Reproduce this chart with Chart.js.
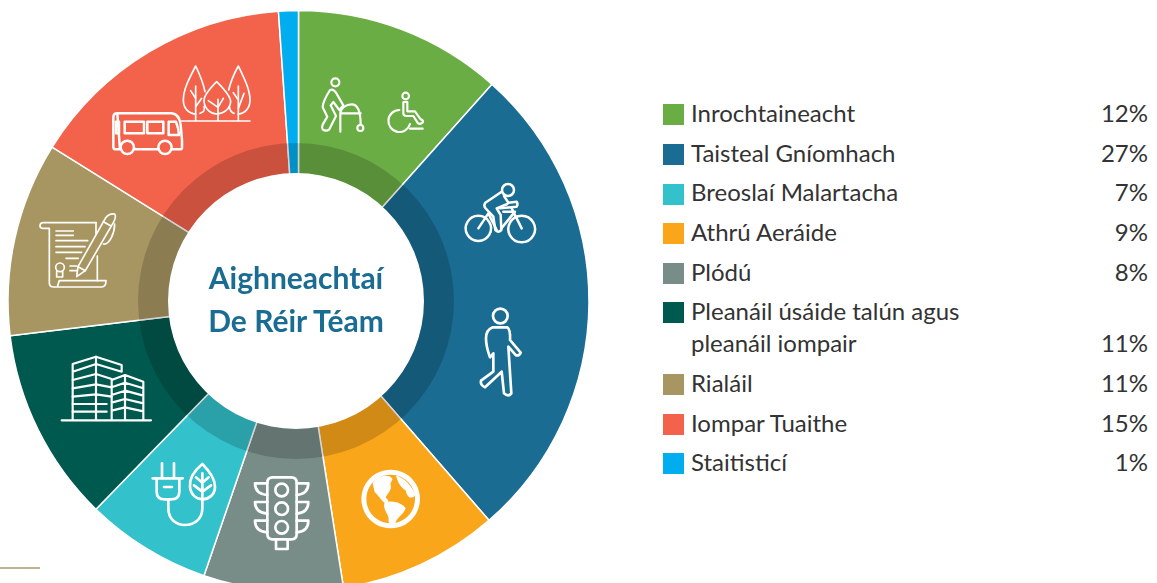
<!DOCTYPE html>
<html lang="ga">
<head>
<meta charset="utf-8">
<title>Aighneachtaí De Réir Téam</title>
<script src="https://cdn.jsdelivr.net/npm/chart.js@4/dist/chart.umd.min.js"></script>
<style>
html,body{margin:0;padding:0;background:#fff;width:1157px;height:583px;overflow:hidden;font-family:Lato,sans-serif}
canvas{position:absolute;display:block}
#base{left:0;top:0}
#ring{left:0;top:0}
#title{position:absolute;left:168px;width:256px;top:256px;text-align:center;color:#1a6c92;font:700 30px/43px Lato,sans-serif;}
#rule{position:absolute;left:0;top:567px;width:40px;height:2px;background:#bdb593}
.sw{position:absolute;left:663px;width:21px;height:21px}
.lb{position:absolute;left:691px;color:#333;font:400 24px/32px Lato,sans-serif;white-space:nowrap}
.pc{position:absolute;right:9px;color:#333;font:400 24px/32px Lato,sans-serif;white-space:nowrap}
</style>
</head>
<body>
<canvas id="base" width="597" height="602" style="width:597px;height:602px"></canvas>
<canvas id="ring" width="592" height="602" style="width:592px;height:602px"></canvas>
<div id="title">Aighneachtaí<br>De Réir Téam</div>
<div id="rule"></div>
<div id="legend"></div>
<script>
// Slices, clockwise from twelve o'clock
const sliceCategories = ["Inrochtaineacht","Taisteal Gníomhach","Athrú Aeráide","Plódú","Breoslaí Malartacha","Pleanáil úsáide talún agus pleanáil iompair","Rialáil","Iompar Tuaithe","Staitisticí"];
const sliceValues = [11.6,27,8.9,7.75,7,10.8,10.8,15,1.1];
const sliceColors = ["#6bad45","#1a6c92","#faa61a","#788c88","#33c2cb","#00594f","#a89662","#f3624b","#00aeef"];
// Legend rows, top to bottom
const legendLines = [["Inrochtaineacht"],["Taisteal Gníomhach"],["Breoslaí Malartacha"],["Athrú Aeráide"],["Plódú"],["Pleanáil úsáide talún agus","pleanáil iompair"],["Rialáil"],["Iompar Tuaithe"],["Staitisticí"]];
const legendPercents = ["12%","27%","7%","9%","8%","11%","11%","15%","1%"];
const legendColors = ["#6bad45","#1a6c92","#33c2cb","#faa61a","#788c88","#00594f","#a89662","#f3624b","#00aeef"];
const legendRowTops = [[97],[137],[176],[216],[256],[295,327],[367],[407],[446]];
const swatchTops = [104,144,184,223,263,302,374,414,453];

const legend = document.getElementById('legend');
legendLines.forEach((lines,i)=>{
  const s=document.createElement('div');s.className='sw';s.style.top=swatchTops[i]+'px';s.style.background=legendColors[i];legend.appendChild(s);
  lines.forEach((t,j)=>{
    const d=document.createElement('div');d.className='lb';d.textContent=t;d.style.top=legendRowTops[i][j]+'px';legend.appendChild(d);
  });
  const tops=legendRowTops[i];
  const p=document.createElement('div');p.className='pc';p.textContent=legendPercents[i];p.style.top=tops[tops.length-1]+'px';legend.appendChild(p);
});

// White line icons. Each is drawn in 3x units from a given page origin, with its own pen width.
const stroked = [
 [300,60,6.5,[
  "M118,67a12,12 0 1 0 -24,0a12,12 0 1 0 24,0Z",
  "M90,90C98,86 104,92 108,98L130,136L118,150L100,126L92,136L108,168L88,208Q78,216 68,208Q64,202 68,194L82,170L68,142Q68,125 90,90Z",
  "M121,215V160C121,145 138,133 155,133C172,133 182,148 182,195M121,160H182",
  "M190,204a9,9 0 1 0 -18,0a9,9 0 1 0 18,0Z",
  "M327,108a10,10 0 1 0 -20,0a10,10 0 1 0 20,0Z",
  "M310,126V160Q310,168 320,168H340L354,190Q362,194 369,186Q370,180 362,178L345,154H322V126Z",
  "M298,150A33,33 0 1 0 330,192",
  "M330,206H368"
 ]],
 [300,60,7.5,[
  "M535,467a38,38 0 1 0 .1,0Z","M665,467a40,40 0 1 0 .1,0Z",
  "M642,390a18,18 0 1 0 -36,0a18,18 0 1 0 36,0Z",
  "M605,395L556,428Q550,436 556,444L580,470L586,510Q594,520 604,510L602,465L590,445L622,432",
  "M612,408L625,428L650,425Q655,432 650,440L600,445",
  "M565,460L535,505M565,460L590,510M635,445L665,505M604,505L645,455H610"
 ]],
 [300,60,8,[
  "M623,768a22,22 0 1 0 -44,0a22,22 0 1 0 44,0Z",
  "M578,802H622Q632,810 630,840L662,878Q658,888 648,886L625,860L634,1000Q625,1012 612,1000L605,935L555,982Q540,975 543,962L580,935L580,880L570,892Q558,860 558,835Q558,810 578,802Z"
 ]],
 [20,50,5,[
  "M527,48C505,90 490,120 490,150C490,175 505,190 527,192M540,190C552,185 555,182 552,170M527,48C540,75 550,100 555,125",
  "M655,48C640,75 632,95 626,120M655,48C675,90 690,120 690,150C690,175 675,190 655,192M628,170C630,182 635,188 642,190",
  "M590,95C565,120 550,140 552,155C555,178 572,192 590,192C610,192 630,178 632,155C632,140 615,120 590,95Z",
  "M527,108V213M594,148V213M655,108V213M485,213H690",
  "M527,145L512,122M527,170L545,145M594,172L565,152M594,172L610,145M655,150L640,128M655,175L672,130"
 ]],
 [20,50,7.5,[
  "M292,190H455Q478,192 482,225L486,270V293Q486,298 478,298H456M414,298H342M300,298H288Q280,298 280,290V202Q280,190 292,190Z",
  "M314,215H372V250H314ZM382,215H430V250H382ZM446,215H468Q476,235 477,255H446ZM288,215H297V250H288Z",
  "M342,292a20,20 0 1 0 -40,0a20,20 0 1 0 40,0Z","M455,292a20,20 0 1 0 -40,0a20,20 0 1 0 40,0Z"
 ]],
 [20,50,5,[
  "M228,518H70Q60,518 60,528Q60,535 70,535H88V698Q88,711 102,711H245Q258,710 258,692H118Q115,700 112,711",
  "M232,618V692M228,518V552",
  "M108,543H160M108,556H160M108,572H203M108,590H195M108,607H185M138,625H175M150,648H170M150,662H170",
  "M133,652a13,13 0 1 0 -26,0a13,13 0 1 0 26,0Z","M110,665V681H128V665",
  "M170,680L174,650L256,505Q266,490 284,492Q290,500 280,518L196,662Z","M174,650L196,662M250,515L273,528",
  "M284,522C284,550 268,585 250,582"
 ]],
 [20,50,6.5,[
  "M125,1111H393M158,1110V942L228,920L305,945V965L228,942L158,965M228,920V1110",
  "M158,990L228,972L275,987M158,1015L228,1003L275,1012M158,1040L228,1033L275,1040M158,1062H260M158,1085H260",
  "M275,1110V990L315,975L370,995V1110M315,975V1110M275,1012L315,998L370,1015M275,1035L315,1022L370,1037M275,1058L315,1047L370,1060M275,1082L315,1072L370,1084"
 ]],
 [140,440,8,[
  "M66,70V112M102,70V112M38,115H128M50,115V155Q50,178 75,178H92Q118,178 118,155V115M72,141H96",
  "M85,178V205C85,240 110,255 135,255C160,255 187,240 187,205V180",
  "M187,72C165,90 148,115 150,140C152,165 170,178 187,178C205,178 225,165 225,140C225,115 205,90 187,72Z",
  "M187,100V178M187,128L168,112M187,128L206,112M187,155L162,136M187,155L213,136"
 ]],
 [140,440,8,[
  "M398,112H454Q470,112 470,128V282Q470,298 454,298H398Q382,298 382,282V128Q382,112 398,112Z",
  "M444,150a19,19 0 1 0 -38,0a19,19 0 1 0 38,0Z","M444,206a19,19 0 1 0 -38,0a19,19 0 1 0 38,0Z","M444,262a19,19 0 1 0 -38,0a19,19 0 1 0 38,0Z",
  "M408,298V327H443V298",
  "M382,130H345Q345,162 382,165M382,186H345Q345,218 382,221M382,242H345Q345,274 382,277",
  "M470,130H505Q505,162 470,165M470,186H505Q505,218 470,221M470,242H505Q505,274 470,277"
 ]],
];
const filled = [
 [140,440,[
  "M752,89a88,88 0 1 0 .1,0ZM752,104a73,73 0 1 1 -.1,0Z",
  "M698,130C715,105 745,103 754,113C764,120 748,125 752,135C757,150 742,160 737,173C747,178 748,192 738,192C725,184 716,167 704,157Z",
  "M733,190C750,178 787,188 797,205C792,222 772,232 767,247C755,257 743,252 746,237C746,222 728,210 733,190Z",
  "M768,106C792,113 818,140 826,165C815,180 800,172 798,152C788,147 773,132 768,106Z"
 ]]
];
const iconPlugin = {
  id:'icons',
  afterDatasetsDraw(chart){
    const c=chart.ctx;
    c.save();
    c.lineJoin='round';c.lineCap='round';
    stroked.forEach(([ox,oy,pen,paths])=>{
      c.save();c.translate(ox,oy);c.scale(1/3,1/3);
      c.strokeStyle='#fff';c.lineWidth=pen;
      paths.forEach(p=>c.stroke(new Path2D(p)));
      c.restore();
    });
    filled.forEach(([ox,oy,paths])=>{
      c.save();c.translate(ox,oy);c.scale(1/3,1/3);
      c.fillStyle='#fff';
      paths.forEach(p=>c.fill(new Path2D(p),'evenodd'));
      c.restore();
    });
    c.restore();
  }
};

const common = {responsive:false,animation:false,maintainAspectRatio:false,
  layout:{padding:0},events:[],
  plugins:{legend:{display:false},tooltip:{enabled:false}}};

new Chart(document.getElementById('base'),{
  type:'doughnut',
  data:{labels:sliceCategories,datasets:[{data:sliceValues,backgroundColor:sliceColors,borderColor:'#fff',borderWidth:1.5}]},
  options:{...common,radius:290.5,cutout:120},
  plugins:[iconPlugin]
});

// Inner shaded band and white hole sit slightly left of the slices' centre
const bandShare = [1];
new Chart(document.getElementById('ring'),{
  type:'doughnut',
  data:{labels:['band'],datasets:[
    {data:bandShare,backgroundColor:'rgba(0,0,0,0.17)',borderWidth:0,weight:30},
    {data:bandShare,backgroundColor:'#fff',borderWidth:0,weight:128}
  ]},
  options:{...common,radius:158,cutout:0}
});
</script>
</body>
</html>
